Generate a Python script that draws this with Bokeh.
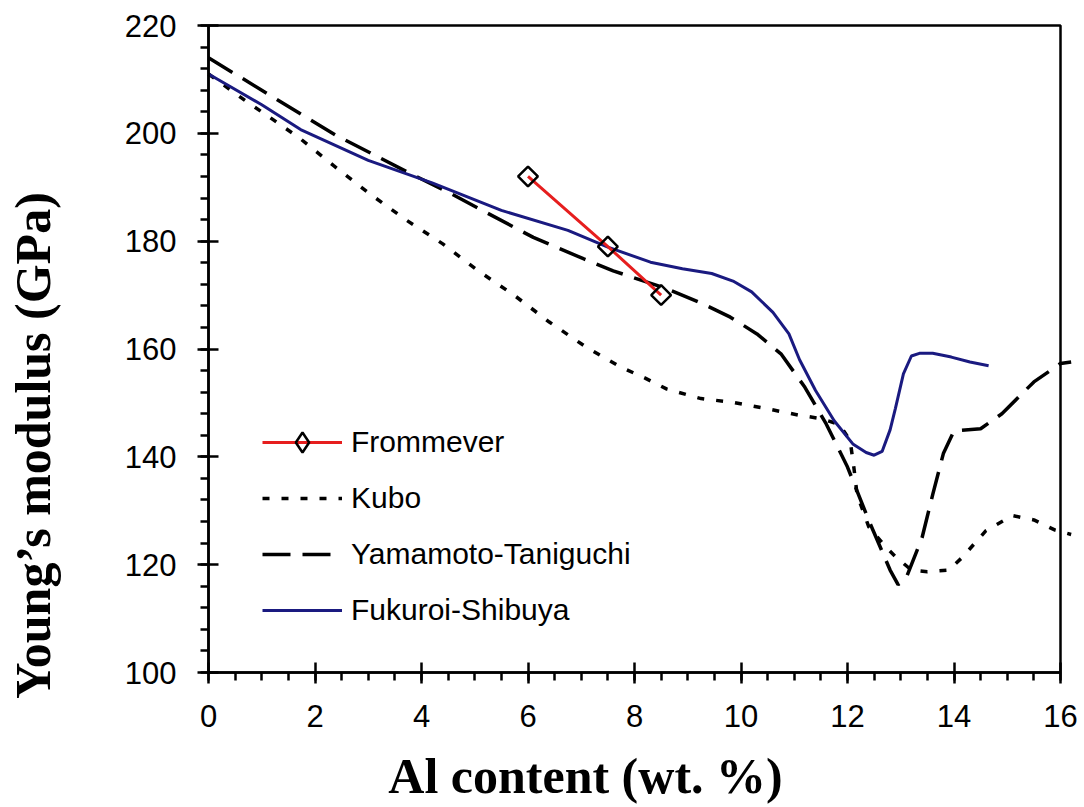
import numpy as np
from bokeh.plotting import figure
from bokeh.models import (Range1d, SingleIntervalTicker, Legend, LegendItem, Label,
                          BoxAnnotation)
from bokeh.embed import file_html
from bokeh.resources import INLINE

# ---- data ----
frommever_x = [6.0, 7.5, 8.5]
frommever_y = [192.0, 179.0, 170.0]

kubo_x = [0.0, 0.7, 1.1, 1.7, 2.35, 3.0, 3.7, 4.4, 5.05, 5.75, 6.4, 7.1, 7.75, 8.2, 8.6,
          9.25, 9.85, 10.5, 11.1, 11.5, 11.85, 12.05, 12.12, 12.18, 12.4, 12.7, 12.9,
          13.2, 13.5, 13.9, 14.15, 14.6, 15.1, 15.5, 15.9, 16.2]
kubo_y = [211.0, 206.0, 203.3, 199.2, 194.0, 189.0, 184.0, 179.5, 174.6, 169.9, 165.0,
          160.3, 156.6, 154.6, 152.6, 150.8, 150.1, 148.9, 147.7, 147.1, 146.0, 143.0,
          138.0, 133.0, 127.0, 123.5, 121.5, 119.0, 118.7, 119.0, 121.3, 126.3, 129.1,
          128.3, 126.4, 125.6]

yamamoto_x = [0.0, 1.0, 2.4, 3.8, 4.5, 5.2, 6.1, 7.05, 7.6, 8.6, 9.3, 9.8, 10.3, 10.75,
              11.2, 11.6, 12.0, 12.4, 12.8, 12.95, 13.1, 13.4, 13.6, 13.8, 14.0, 14.5,
              14.9, 15.5, 16.0, 16.2]
yamamoto_y = [214.0, 208.0, 199.6, 192.5, 189.1, 185.4, 180.7, 176.7, 174.5, 171.2, 168.3,
              165.9, 162.8, 159.1, 152.9, 146.1, 138.1, 128.2, 119.0, 116.3, 117.5, 125.0,
              133.0, 140.6, 144.8, 145.2, 148.0, 153.9, 157.3, 157.6]

fukuroi_x = [0.0, 1.0, 1.73, 3.0, 4.2, 5.5, 6.75, 7.5, 8.3, 8.9, 9.45, 9.85, 10.2, 10.6,
             10.9, 11.1, 11.4, 11.75, 12.1, 12.35, 12.5, 12.65, 12.8, 12.9, 13.05, 13.2,
             13.35, 13.6, 13.95, 14.3, 14.65]
fukuroi_y = [211.0, 205.3, 200.7, 195.0, 190.8, 185.7, 182.0, 178.9, 176.1, 174.9, 174.0,
             172.6, 170.6, 166.8, 162.8, 158.0, 152.3, 146.7, 142.4, 140.8, 140.3, 141.0,
             145.0, 149.0, 155.4, 158.7, 159.2, 159.2, 158.5, 157.6, 156.9]

series_names = ["Frommever", "Kubo", "Yamamoto-Taniguchi", "Fukuroi-Shibuya"]
x_title = "Al content (wt. %)"
y_title = "Young\u2019s modulus (GPa)"
x_min, x_max = 0, 16
y_min, y_max = 100, 220

# ---- layout: the drawing area covers the whole canvas; axes sit at fixed places ----
W, H = 1084, 807
PX_LEFT, PX_RIGHT = 208, 1060      # pixel of x_min / x_max
PX_TOP, PX_BOTTOM = 25, 672        # pixel of y_max / y_min
sx = (PX_RIGHT - PX_LEFT) / (x_max - x_min)
sy = (PX_BOTTOM - PX_TOP) / (y_max - y_min)
xr = Range1d(x_min - PX_LEFT / sx, x_min + (W - PX_LEFT) / sx)
yr = Range1d(y_max + PX_TOP / sy - H / sy, y_max + PX_TOP / sy)


def px_to_x(px):
    return xr.start + px / sx


def px_to_y(py):
    return yr.end - py / sy


p = figure(width=W, height=H, output_backend="svg", toolbar_location=None,
           x_range=xr, y_range=yr, min_border=0)
p.xgrid.visible = False
p.ygrid.visible = False
p.outline_line_color = None
p.background_fill_color = "white"
p.border_fill_color = "white"

p.xaxis.ticker = SingleIntervalTicker(interval=2, num_minor_ticks=4)
p.yaxis.ticker = SingleIntervalTicker(interval=20, num_minor_ticks=5)
p.xaxis.fixed_location = y_min
p.yaxis.fixed_location = x_min
p.xaxis.bounds = (x_min, x_max)
p.yaxis.bounds = (y_min, y_max)
for ax in (p.xaxis, p.yaxis):
    ax.axis_line_width = 2.5
    ax.axis_line_color = "black"
    ax.major_tick_line_width = 2.5
    ax.minor_tick_line_width = 2.5
    ax.major_tick_line_color = "black"
    ax.minor_tick_line_color = "black"
    ax.major_tick_in = 10
    ax.major_tick_out = 11
    ax.minor_tick_in = 0
    ax.minor_tick_out = 8
    ax.major_label_text_font = "Liberation Sans"
    ax.major_label_text_font_size = "31px"
    ax.major_label_text_color = "black"
p.yaxis.major_label_standoff = 21
p.xaxis.major_label_standoff = 21

# plot frame box
p.add_layout(BoxAnnotation(left=x_min, right=x_max, bottom=y_min, top=y_max,
                           fill_alpha=0, line_color="black", line_width=2.5,
                           line_alpha=1.0))

kubo = p.line(kubo_x, kubo_y, line_color="black", line_width=3.5, line_dash="7 12")
yam = p.line(yamamoto_x, yamamoto_y, line_color="black", line_width=3.5, line_dash="28 12")
fuk = p.line(fukuroi_x, fukuroi_y, line_color="#1a1a80", line_width=3)
fr_line = p.line(frommever_x, frommever_y, line_color="#e61e1e", line_width=3)
fr_pts = p.scatter(frommever_x, frommever_y, marker="square", angle=np.pi / 4, size=14,
                   fill_alpha=0, line_color="black", line_width=2.5)
# legend-only marker (no points drawn in the plot)
fr_key = p.scatter([np.nan], [np.nan], marker="diamond", fill_alpha=0,
                   line_color="black", line_width=2.5)

legend = Legend(items=[
    LegendItem(label=series_names[0], renderers=[fr_line, fr_key]),
    LegendItem(label=series_names[1], renderers=[kubo]),
    LegendItem(label=series_names[2], renderers=[yam]),
    LegendItem(label=series_names[3], renderers=[fuk]),
], location=(262, H - 635), glyph_width=80, glyph_height=50, label_height=50, spacing=6,
    label_standoff=9, padding=0, margin=0, border_line_alpha=0,
    background_fill_alpha=0, label_text_font="Liberation Sans",
    label_text_font_size="30px", label_text_color="black")
p.add_layout(legend)

p.add_layout(Label(x=px_to_x(585), y=px_to_y(775), text=x_title,
                   text_font="Liberation Serif", text_font_style="bold",
                   text_font_size="50px", text_align="center",
                   text_baseline="alphabetic", text_color="black"))
p.add_layout(Label(x=px_to_x(32), y=px_to_y(445), text=y_title, angle=np.pi / 2,
                   text_font="Liberation Serif", text_font_style="bold",
                   text_font_size="50px", text_align="center",
                   text_baseline="alphabetic", text_color="black"))

open("out.html", "w").write(file_html(p, INLINE))
